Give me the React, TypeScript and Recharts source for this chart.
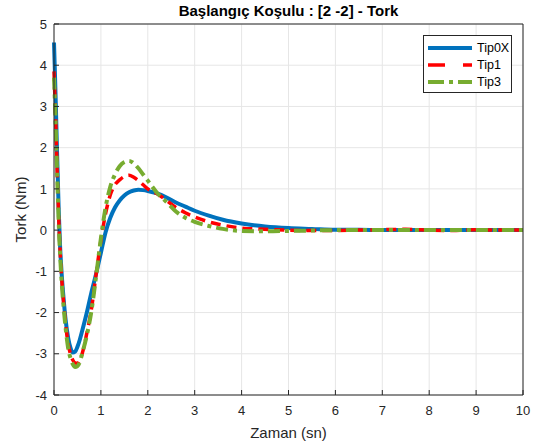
import React from "react";
import { LineChart, Line, XAxis, YAxis, CartesianGrid, Legend } from "recharts";

// sample times (s) and torque responses (Nm) for each controller type
const zaman = [
  0, 0.02, 0.04, 0.06, 0.08, 0.1, 0.13, 0.16, 0.2, 0.25, 0.3, 0.35, 0.4, 0.45, 0.5, 0.55, 0.6,
  0.7, 0.8, 0.9, 1.0, 1.1, 1.2, 1.3, 1.4, 1.5, 1.6, 1.7, 1.8, 1.9, 2.0, 2.2, 2.4, 2.6, 2.8,
  3.0, 3.3, 3.6, 4.0, 4.5, 5.0, 5.5, 6.0, 6.5, 7.0, 7.5, 8.0, 8.5, 9.0, 9.5, 10,
];
const tip0x = [
  4.55, 3.8, 3.0, 2.1, 1.3, 0.5, -0.4, -1.0, -1.6, -2.2, -2.6, -2.85, -2.97, -2.95, -2.83, -2.66, -2.45,
  -2.0, -1.5, -1.05, -0.55, -0.05, 0.3, 0.55, 0.72, 0.84, 0.92, 0.96, 0.98, 0.97, 0.95, 0.89, 0.79, 0.67, 0.57,
  0.47, 0.35, 0.25, 0.16, 0.09, 0.05, 0.03, 0.01, 0.01, 0, 0, 0, 0, 0, 0, 0,
];
const tip1 = [
  3.85, 3.2, 2.5, 1.7, 1.0, 0.3, -0.5, -1.1, -1.7, -2.3, -2.75, -3.0, -3.15, -3.22, -3.23, -3.15, -3.0,
  -2.5, -1.9, -1.05, -0.25, 0.4, 0.85, 1.1, 1.22, 1.3, 1.33, 1.28, 1.2, 1.1, 1.0, 0.88, 0.72, 0.55, 0.42,
  0.32, 0.2, 0.12, 0.05, 0.02, 0, -0.01, -0.01, 0, 0.01, 0.02, 0, -0.01, 0.01, 0, 0,
];
const tip3 = [
  3.7, 3.1, 2.4, 1.6, 0.9, 0.2, -0.6, -1.2, -1.8, -2.4, -2.85, -3.1, -3.25, -3.32, -3.3, -3.2, -3.0,
  -2.55, -1.95, -1.1, -0.2, 0.55, 1.05, 1.35, 1.55, 1.65, 1.68, 1.62, 1.5, 1.35, 1.2, 0.9, 0.68, 0.45, 0.3,
  0.2, 0.1, 0.03, -0.02, -0.03, -0.02, -0.01, 0, 0, 0, 0, 0, 0, 0, 0, 0,
];

const xTicks = [0, 1, 2, 3, 4, 5, 6, 7, 8, 9, 10];
const yTicks = [-4, -3, -2, -1, 0, 1, 2, 3, 4, 5];

const data = zaman.map((t, i) => ({ t, tip0x: tip0x[i], tip1: tip1[i], tip3: tip3[i] }));

const FONT = "'Liberation Sans', Arial, Helvetica, sans-serif";
const INK = "#262626";

const series = [
  { key: "tip0x", name: "Tip0X", color: "#0072BD", width: 4, dash: undefined, legendDash: undefined },
  { key: "tip1", name: "Tip1", color: "#FF0000", width: 3.5, dash: "10 6", legendDash: "17 18" },
  { key: "tip3", name: "Tip3", color: "#77AC30", width: 4, dash: "12 5 4 5", legendDash: "16 5 4 5" },
];

const LegendBox = () => (
  <div
    style={{
      width: 89,
      height: 58,
      border: `1px solid ${INK}`,
      background: "#fff",
      fontFamily: FONT,
      fontSize: 12.5,
      color: "#000",
      boxSizing: "border-box",
      paddingTop: 3,
    }}
  >
    {series.map((s) => (
      <div key={s.key} style={{ display: "flex", alignItems: "center", height: 17 }}>
        <svg width={50} height={10} style={{ marginLeft: 3 }}>
          <line x1={1} y1={5} x2={45} y2={5} stroke={s.color} strokeWidth={s.width} strokeDasharray={s.legendDash} />
        </svg>
        <span>{s.name}</span>
      </div>
    ))}
  </div>
);

export default function App() {
  return (
    <div style={{ position: "absolute", left: 0, top: 0, background: "#fff" }}>
      <LineChart width={540} height={444} data={data} margin={{ top: 23, right: 16, left: 0, bottom: 0 }}>
        <CartesianGrid stroke="#e6e6e6" strokeWidth={1} />
        <XAxis
          dataKey="t"
          type="number"
          domain={[0, 10]}
          ticks={xTicks}
          height={49}
          stroke={INK}
          tickSize={-5}
          tickMargin={16}
          tick={{ fill: INK, fontSize: 13, fontFamily: FONT }}
          label={{ value: "Zaman (sn)", position: "insideBottom", offset: 6, fill: INK, fontSize: 15, fontFamily: FONT }}
        />
        <XAxis
          xAxisId="top"
          orientation="top"
          dataKey="t"
          type="number"
          domain={[0, 10]}
          ticks={xTicks}
          height={1}
          stroke={INK}
          tickSize={-5}
          tick={false}
          label={{ value: "Başlangıç Koşulu : [2 -2] - Tork", position: "top", offset: 7, fill: "#000", fontSize: 15, fontWeight: "bold", fontFamily: FONT }}
        />
        <YAxis
          type="number"
          domain={[-4, 5]}
          ticks={yTicks}
          width={54}
          stroke={INK}
          tickSize={-5}
          tickMargin={12}
          tick={{ fill: INK, fontSize: 13, fontFamily: FONT }}
          label={{ value: "Tork (Nm)", angle: -90, position: "insideLeft", offset: 21, fill: INK, fontSize: 15, fontFamily: FONT, style: { textAnchor: "middle" } }}
        />
        <YAxis
          yAxisId="right"
          orientation="right"
          type="number"
          domain={[-4, 5]}
          ticks={yTicks}
          width={1}
          stroke={INK}
          tickSize={-5}
          tick={false}
        />
        <Legend
          layout="horizontal"
          align="center"
          verticalAlign="middle"
          content={<LegendBox />}
          wrapperStyle={{ top: 35, left: 423, width: 89 }}
        />
        {series.map((s) => (
          <Line
            key={s.key}
            dataKey={s.key}
            name={s.name}
            type="monotone"
            stroke={s.color}
            strokeWidth={s.width}
            strokeDasharray={s.dash}
            dot={false}
            activeDot={false}
            isAnimationActive={false}
          />
        ))}
      </LineChart>
    </div>
  );
}
